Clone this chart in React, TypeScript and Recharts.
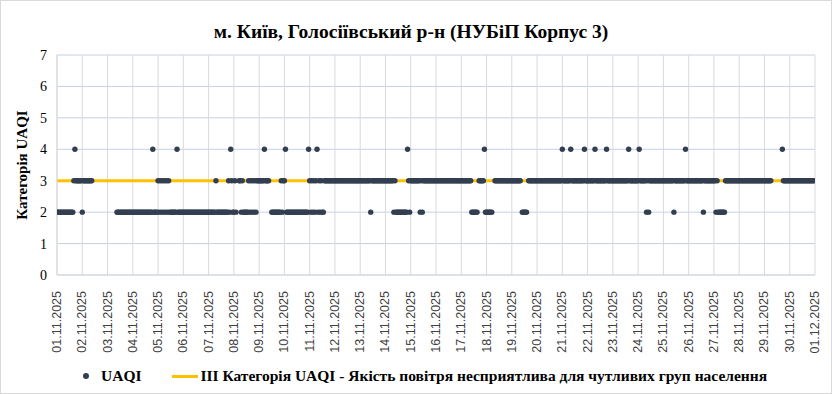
import React from 'react';
import {
  ComposedChart,
  Scatter,
  Line,
  XAxis,
  YAxis,
  CartesianGrid,
} from 'recharts';

// tick labels, one per day boundary
const dayLabels = [
  '01.11.2025', '02.11.2025', '03.11.2025', '04.11.2025', '05.11.2025', '06.11.2025',
  '07.11.2025', '08.11.2025', '09.11.2025', '10.11.2025', '11.11.2025', '12.11.2025',
  '13.11.2025', '14.11.2025', '15.11.2025', '16.11.2025', '17.11.2025', '18.11.2025',
  '19.11.2025', '20.11.2025', '21.11.2025', '22.11.2025', '23.11.2025', '24.11.2025',
  '25.11.2025', '26.11.2025', '27.11.2025', '28.11.2025', '29.11.2025', '30.11.2025',
  '01.12.2025',
];

// hourly UAQI category, 24 chars per day (groups of 6 hours), '-' = no data
const uaqiByDay = [
  '222222 222222 222234 333333',
  '233333 3333-- ------ ------',
  '------ ---222 222222 222222',
  '222222 222222 222222 242222',
  '323232 323232 222222 422222',
  '222222 222222 222222 222222',
  '222222 232222 222222 232432',
  '232--3 323222 223232 323233',
  '333334 3333-- 222222 222323',
  '342222 222222 222222 222224',
  '323232 342323 223333 333333',
  '333333 333333 333333 333333',
  '333333 333323 333333 333333',
  '333333 332322 222222 222432',
  '333333 333232 333333 333333',
  '333333 333333 333333 333333',
  '333333 333322 2222-3 333342',
  '222222 --3333 333333 333333',
  '333333 333-22 222-33 333333',
  '333333 333333 333333 333333',
  '433333 334333 333333 333433',
  '333333 343333 333333 433333',
  '333333 333333 333433 333333',
  '343333 332323 333333 333333',
  '333333 333323 333333 333433',
  '333333 333333 332333 333333',
  '332322 222223 333333 333333',
  '333333 333333 333333 333333',
  '333333 3----- -----4 333333',
  '333333 333333 333333 333333',
];

const yTicks = [0, 1, 2, 3, 4, 5, 6, 7];
const thresholdValue = 3;

const uaqiPoints: { h: number; v: number }[] = [];
uaqiByDay.forEach((day, d) => {
  day.replace(/ /g, '').split('').forEach((c, i) => {
    if (c !== '-') uaqiPoints.push({ h: d * 24 + i, v: Number(c) });
  });
});

const xTicks = dayLabels.map((_, i) => i * 24);
const lastHour = (dayLabels.length - 1) * 24;
const thresholdLine = [
  { h: 0, v: thresholdValue },
  { h: lastHour, v: thresholdValue },
];

const DayTick = (props: any) => {
  const { x, y, payload } = props;
  const ty = y + 8;
  return (
    <text
      x={x}
      y={ty}
      transform={`rotate(-90, ${x}, ${ty})`}
      textAnchor="end"
      dominantBaseline="central"
      fontFamily="'Liberation Sans', Arial, sans-serif"
      fontSize={12.5}
      fill="#404040"
    >
      {dayLabels[Math.round(payload.value / 24)]}
    </text>
  );
};

const Dot = (props: any) => (
  <circle cx={props.cx} cy={props.cy} r={2.7} fill="#333f50" />
);

const serif = "'Liberation Serif', 'Times New Roman', serif";

export default function App() {
  return (
    <div
      style={{
        position: 'absolute',
        left: 0,
        top: 0,
        width: 832,
        height: 394,
        background: '#fff',
        border: '1px solid #d9d9d9',
        boxSizing: 'border-box',
      }}
    >
      <div
        style={{
          position: 'absolute',
          top: 20,
          left: -6,
          width: 832,
          textAlign: 'center',
          fontFamily: serif,
          fontWeight: 'bold',
          fontSize: 19.5,
          color: '#000',
        }}
      >
        м. Київ, Голосіївський р-н (НУБіП Корпус 3)
      </div>
      <div style={{ position: 'absolute', left: -1, top: -1 }}>
        <ComposedChart
          width={832}
          height={394}
          margin={{ top: 55, right: 17, bottom: 44, left: 0 }}
        >
          <CartesianGrid vertical={false} stroke="#c3d0e4" />
          <CartesianGrid horizontal={false} stroke="#d9d9d9" />
          <XAxis
            type="number"
            dataKey="h"
            domain={[0, lastHour]}
            ticks={xTicks}
            interval={0}
            height={75}
            tick={<DayTick />}
            tickLine={false}
            axisLine={{ stroke: '#d9d9d9' }}
            allowDataOverflow
          />
          <YAxis
            type="number"
            dataKey="v"
            domain={[0, 7]}
            ticks={yTicks}
            width={57}
            tickLine={false}
            axisLine={{ stroke: '#d9d9d9' }}
            tick={{ fontFamily: serif, fontSize: 14, fill: '#000', dx: -2 }}
            label={{
              value: 'Категорія UAQI',
              angle: -90,
              position: 'insideLeft',
              offset: 22,
              style: { textAnchor: 'middle', fontFamily: serif, fontWeight: 'bold', fontSize: 15, fill: '#000' },
            }}
          />
          <Line
            data={thresholdLine}
            dataKey="v"
            stroke="#ffc000"
            strokeWidth={3}
            dot={false}
            activeDot={false}
            isAnimationActive={false}
          />
          <Scatter
            data={uaqiPoints}
            dataKey="v"
            fill="#333f50"
            shape={<Dot />}
            isAnimationActive={false}
          />
        </ComposedChart>
      </div>
      <div
        style={{
          position: 'absolute',
          top: 365,
          left: 0,
          height: 20,
          display: 'flex',
          alignItems: 'center',
          fontFamily: serif,
          fontWeight: 'bold',
          fontSize: 15.5,
          color: '#000',
        }}
      >
        <span style={{ width: 6, height: 6, borderRadius: 3, background: '#333f50', marginLeft: 82 }} />
        <span style={{ marginLeft: 12 }}>UAQI</span>
        <span style={{ width: 26, height: 3, background: '#ffc000', marginLeft: 31 }} />
        <span style={{ marginLeft: 2 }}>III Категорія UAQI - Якість повітря несприятлива для чутливих груп населення</span>
      </div>
    </div>
  );
}
